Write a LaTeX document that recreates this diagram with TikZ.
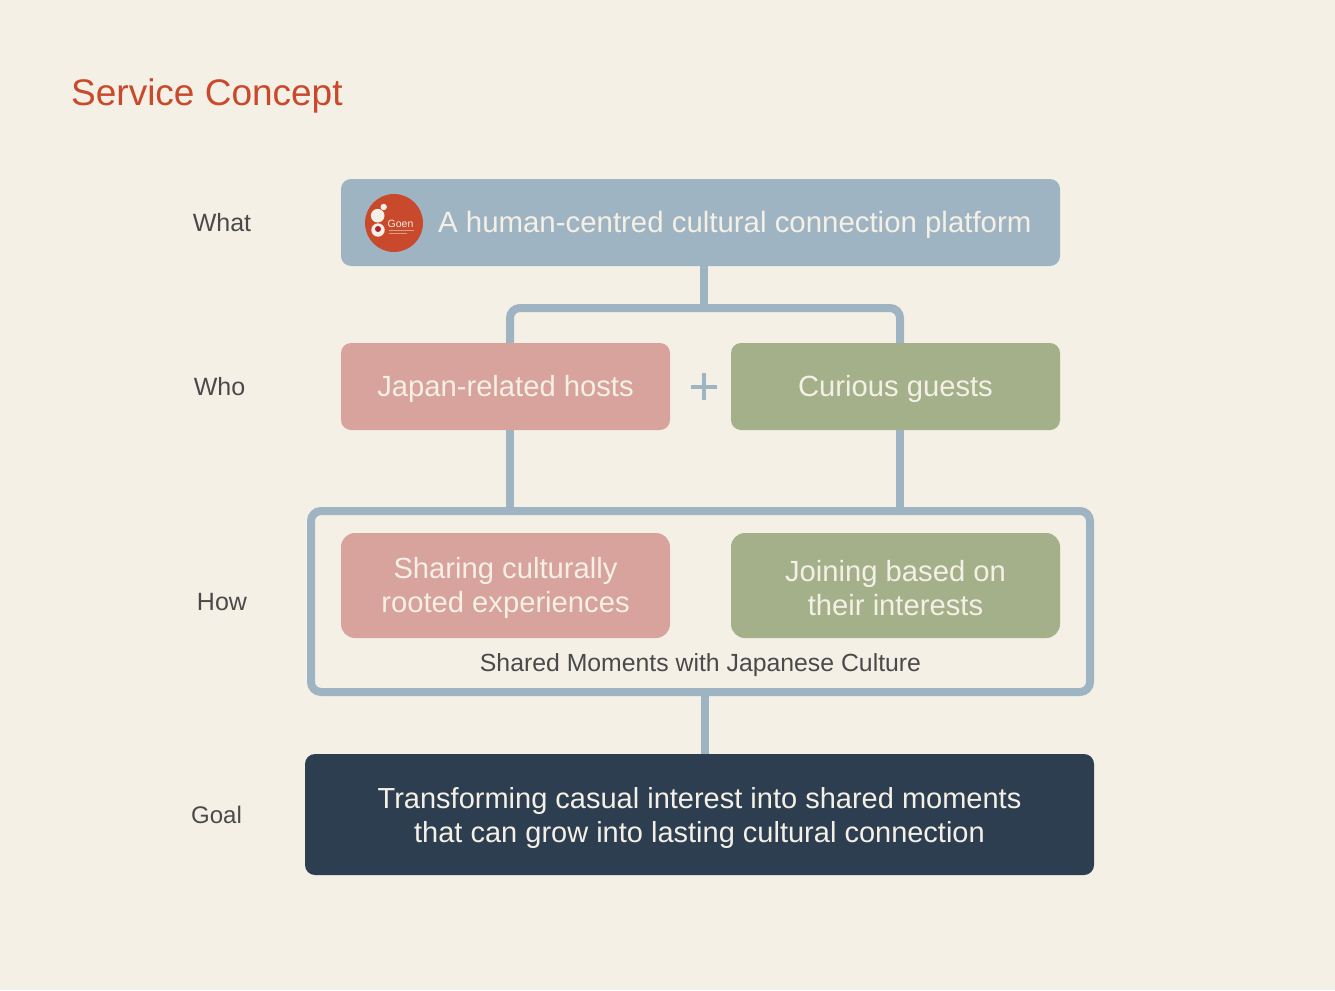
\documentclass[tikz,border=0pt]{standalone}
\usepackage{fontspec}
\setmainfont{Liberation Sans}
\usepackage[svgnames]{xcolor}
\usetikzlibrary{positioning}
\definecolor{paper}{HTML}{F4F0E6}
\definecolor{steel}{HTML}{9FB4C2}
\definecolor{rose}{HTML}{D8A39C}
\definecolor{moss}{HTML}{A3B08A}
\definecolor{navy}{HTML}{2D3E50}
\definecolor{rust}{HTML}{C8492B}
\definecolor{ink}{HTML}{4A4A4A}
\definecolor{crimson}{HTML}{B01E32}
\newcommand{\boxstrut}{\rule[-1pt]{0pt}{28pt}}
\tikzset{
    box/.style={rectangle, rounded corners=10pt, inner sep=0pt, align=center, text=paper, font=\fontsize{29.2}{34}\selectfont},
    rowlabel/.style={text=ink, inner sep=0pt, font=\fontsize{25}{30}\selectfont},
    link/.style={draw=steel, line width=8pt},
}
\begin{document}
\begin{tikzpicture}[x=1pt,y=-1pt]
            \fill[paper] (0,0) rectangle (1335,990);
            \useasboundingbox (0,0) rectangle (1335,990);
            \node[anchor=base west, inner sep=0pt, text=rust, font=\fontsize{37}{44}\selectfont] (title) at (71,105) {Service Concept};
            % row labels
            \node[rowlabel] (what) at (222,223) {What};
            \node[rowlabel] (who) at (219.5,387) {Who};
            \node[rowlabel] (how) at (222,602) {How};
            \node[rowlabel, font=\fontsize{24}{30}\selectfont] (goal) at (216.5,815) {Goal};
            % boxes
            \node[box, fill=steel, minimum width=719pt, minimum height=87pt] (platform) at (700.5,222.5) {};
            \node[box, anchor=west, font=\fontsize{29.4}{34}\selectfont] (platformtext) at (438,222.5) {\boxstrut A human-centred cultural connection platform};
            \node[box, fill=rose, minimum width=329pt, minimum height=87pt] (hosts) at (505.5,386.5) {\boxstrut Japan-related hosts};
            \node[box, fill=moss, minimum width=329pt, minimum height=87pt] (guests) at (895.5,386.5) {\boxstrut Curious guests};
            \node[inner sep=0pt, minimum size=26pt] (plus) at (704,386.5) {};
            \draw[steel, line width=4pt] (plus.west)--(plus.east);
            \draw[steel, line width=4pt] (plus.north)--(plus.south);
            \node[draw=steel, line width=8pt, rounded corners=10pt, minimum width=779pt, minimum height=181pt, inner sep=0pt] (frame) at (700.5,601.5) {};
            \node[box, fill=rose, rounded corners=14pt, minimum width=329pt, minimum height=105pt] (sharing) at (505.5,585.5) {\boxstrut Sharing culturally\\\boxstrut rooted experiences};
            \node[box, fill=moss, rounded corners=14pt, minimum width=329pt, minimum height=105pt] (joining) at (895.5,585.5) {\boxstrut Joining based on\\\boxstrut their interests};
            \node[rowlabel, font=\fontsize{24.8}{30}\selectfont] (moments) at (700.5,665) {Shared Moments with Japanese Culture};
            \node[box, fill=navy, font=\fontsize{29}{34}\selectfont, minimum width=789pt, minimum height=121pt] (result) at (699.5,814.5) {\boxstrut Transforming casual interest into shared moments\\\boxstrut that can grow into lasting cultural connection};
            % connectors
            \coordinate (joint) at (704,308);
            \draw[link] ([xshift=3.5pt]platform.south)--(joint);
            \draw[link, rounded corners=10pt] ([xshift=4.5pt]hosts.north)--([xshift=4.5pt]hosts.north |- joint)--([xshift=4.5pt]guests.north |- joint)--([xshift=4.5pt]guests.north);
            \draw[link] ([xshift=4.5pt]hosts.south)--([xshift=4.5pt]hosts.south |- frame.north);
            \draw[link] ([xshift=4.5pt]guests.south)--([xshift=4.5pt]guests.south |- frame.north);
            \draw[link] ([xshift=4.5pt]frame.south)--([xshift=5.5pt]result.north);
            % logo
            \fill[rust] (394,223) circle (29pt);
            \fill[paper] (383.7,207) circle (3.2pt);
            \fill[paper] (377.7,215.7) circle (6.8pt);
            \fill[paper] (378,230) circle (6.7pt);
            \fill[crimson] (378,229) circle (3pt);
            \node[inner sep=0pt, text=paper, font=\fontsize{10.5}{12}\selectfont] (logoname) at (400.5,224) {Goen};
            \draw[paper, opacity=0.5, line width=0.7pt] (388.5,230.6)--(414,230.6);
            \draw[paper, opacity=0.5, line width=0.7pt] (388.5,233.2)--(407,233.2);
\end{tikzpicture}
\end{document}
